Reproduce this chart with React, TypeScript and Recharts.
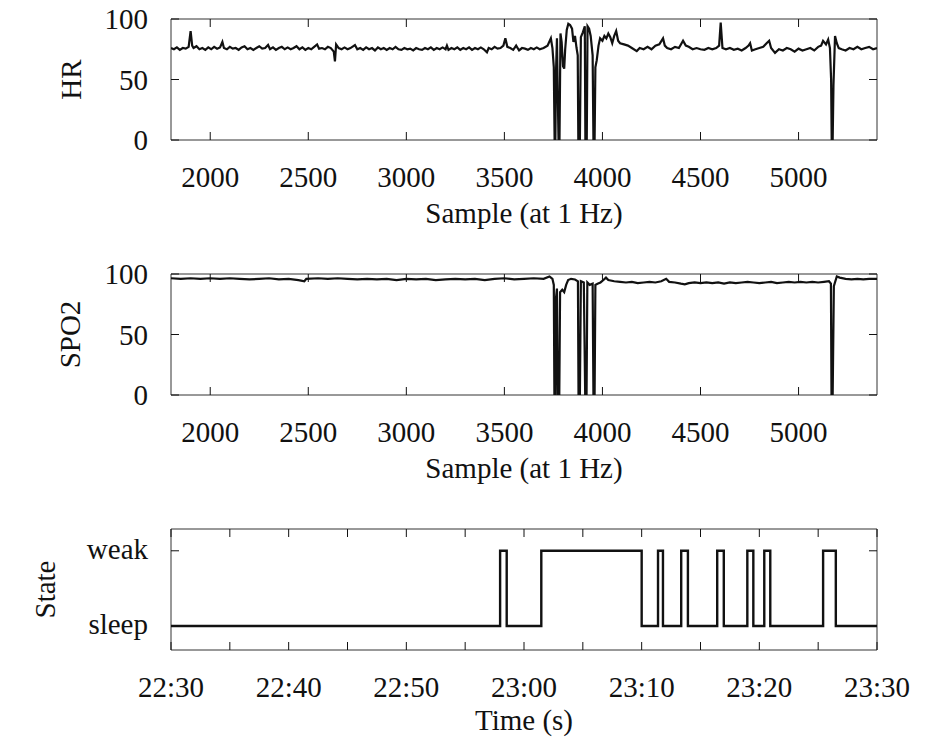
import React from 'react';
import { LineChart, Line, XAxis, YAxis, ReferenceArea } from 'recharts';

// --- layout constants (shared by the three stacked panels) ---
const FONT = '"Liberation Serif", "Times New Roman", serif';
const INK = '#111';
const FRAME = '#333';
const CHART_W = 946;
const PLOT_LEFT = 171;
const PLOT_W = 706;
const PLOT_H = 121;
const TICK_LEN = 8;
const FONT_SIZE = 29;

// --- axis ticks ---
const sampleTicks = [2000, 2500, 3000, 3500, 4000, 4500, 5000];
const levelTicks = [0, 50, 100];
const minuteTicks = [0, 5, 10, 15, 20, 25, 30, 35, 40, 45, 50, 55, 60];
const stateNames = ['sleep', 'weak'];

// --- heart rate, [sample, bpm] ---
const hrPoints: [number, number][] = [
  [1800, 76], [1815, 75], [1830, 76.5], [1845, 74.5], [1860, 76], [1875, 75.5], [1890, 77],
  [1900, 90], [1908, 78], [1915, 76], [1930, 77.5], [1945, 75], [1960, 76], [1975, 74.5],
  [1990, 76.5], [2005, 75], [2020, 77], [2035, 75.5], [2050, 76.5], [2062, 81], [2070, 76],
  [2085, 75], [2100, 77], [2115, 75.5], [2130, 76], [2145, 74.5], [2160, 76.5], [2175, 77.5],
  [2190, 75], [2205, 76], [2220, 74.5], [2235, 76], [2250, 77.5], [2265, 75.5], [2280, 76],
  [2295, 78.5], [2305, 75], [2320, 76.5], [2335, 74.5], [2350, 76], [2365, 77], [2380, 75],
  [2395, 76.5], [2410, 75], [2425, 76], [2440, 77.5], [2455, 75], [2470, 76.5], [2485, 74.5],
  [2500, 76], [2515, 75], [2530, 77], [2545, 79], [2555, 75.5], [2570, 76], [2585, 75],
  [2600, 77], [2615, 76], [2630, 73], [2636, 65], [2642, 79], [2655, 76], [2670, 75],
  [2685, 76.5], [2700, 75], [2715, 76], [2738, 78.5], [2750, 75], [2765, 76], [2780, 74.5],
  [2795, 76.5], [2810, 75], [2825, 76], [2840, 74], [2855, 76.5], [2870, 75], [2885, 76],
  [2900, 74.5], [2915, 76], [2930, 75], [2945, 77], [2960, 75], [2975, 74.5], [2990, 76],
  [3005, 75], [3020, 75.5], [3035, 74], [3050, 76], [3065, 75], [3080, 74.5], [3095, 76],
  [3110, 75], [3125, 76.5], [3140, 74.5], [3155, 76], [3170, 75], [3185, 76.5], [3200, 75],
  [3207, 78], [3215, 74.5], [3230, 76], [3245, 75], [3260, 76.5], [3275, 74.5], [3290, 76],
  [3305, 75], [3320, 76.5], [3335, 74.5], [3350, 76], [3365, 75], [3380, 76.5], [3395, 75],
  [3411, 72.5], [3420, 76], [3435, 75], [3450, 77], [3465, 75.5], [3480, 76], [3495, 78],
  [3505, 84], [3515, 77], [3530, 76], [3545, 74.5], [3560, 78], [3575, 74], [3590, 76],
  [3605, 75.5], [3620, 74.5], [3635, 76], [3650, 75], [3665, 76.5], [3680, 75], [3700, 76],
  [3720, 78], [3737, 84], [3745, 76], [3752, 60], [3756, 0], [3760, 0], [3763, 55],
  [3768, 84], [3772, 40], [3776, 0], [3781, 0], [3786, 88], [3792, 81], [3799, 61],
  [3805, 59], [3810, 75], [3818, 91], [3826, 96], [3835, 95], [3845, 92], [3852, 81],
  [3860, 86], [3868, 76], [3874, 70], [3877, 0], [3885, 0], [3890, 85], [3900, 89],
  [3910, 94], [3913, 0], [3920, 0], [3924, 94], [3932, 92], [3940, 86], [3950, 70],
  [3954, 0], [3960, 0], [3964, 60], [3971, 66], [3980, 78], [3988, 84], [4000, 82],
  [4010, 86], [4020, 84], [4030, 88], [4040, 85], [4050, 80], [4060, 86], [4070, 90],
  [4080, 82], [4090, 80], [4110, 79], [4130, 78], [4150, 76], [4175, 73.5], [4190, 76],
  [4210, 75], [4230, 77], [4250, 75], [4270, 78], [4290, 79], [4309, 84], [4318, 78],
  [4330, 76], [4350, 75], [4370, 77], [4390, 76], [4411, 82], [4425, 78], [4440, 77],
  [4460, 75], [4480, 76], [4500, 75], [4520, 74.5], [4540, 76], [4560, 75], [4580, 76],
  [4595, 78], [4603, 97], [4612, 76], [4630, 75], [4650, 76], [4670, 74.5], [4690, 75.5],
  [4710, 74], [4730, 76], [4745, 78], [4753, 80], [4762, 74], [4780, 75], [4800, 76],
  [4820, 77], [4837, 80], [4850, 82], [4860, 76], [4880, 72], [4900, 75], [4920, 74],
  [4940, 76], [4960, 75], [4980, 73], [5000, 75.5], [5020, 74], [5040, 75], [5060, 76],
  [5080, 74], [5100, 77], [5115, 78], [5125, 82], [5140, 79], [5151, 83], [5160, 76],
  [5166, 50], [5169, 0], [5174, 0], [5178, 45], [5186, 86], [5195, 80], [5205, 76],
  [5220, 75], [5240, 74], [5260, 76], [5280, 75], [5300, 77], [5320, 75], [5340, 76],
  [5360, 77], [5380, 75], [5400, 76],
];

// --- blood oxygen saturation, [sample, %] ---
const spo2Points: [number, number][] = [
  [1800, 96.5], [1850, 96], [1900, 96.5], [1950, 96], [2000, 96.5], [2050, 96], [2100, 96.5],
  [2150, 96], [2200, 95.5], [2250, 96], [2300, 96.5], [2350, 95.5], [2400, 96], [2450, 95],
  [2480, 94], [2490, 96], [2550, 96.5], [2600, 96], [2650, 96.5], [2700, 96], [2750, 95.5],
  [2800, 96], [2850, 95.5], [2900, 96], [2950, 95], [3000, 96], [3050, 95.5], [3100, 96],
  [3150, 95], [3200, 95.5], [3250, 96], [3300, 95.5], [3350, 96], [3400, 95], [3450, 96],
  [3500, 96.5], [3550, 95.5], [3600, 96], [3650, 96.5], [3700, 96], [3730, 98], [3745, 96],
  [3752, 91], [3755, 0], [3760, 0], [3763, 80], [3768, 88], [3772, 0], [3780, 0],
  [3784, 85], [3795, 87], [3805, 85], [3815, 91], [3825, 95], [3840, 96], [3860, 95.5],
  [3875, 94], [3878, 0], [3885, 0], [3890, 94], [3905, 93], [3912, 0], [3919, 0],
  [3923, 93], [3935, 91], [3950, 92], [3954, 0], [3960, 0], [3964, 91], [3975, 92],
  [3990, 93], [4005, 95], [4018, 97], [4030, 95], [4060, 94], [4090, 93.5], [4120, 93],
  [4150, 93.5], [4180, 92.5], [4210, 93], [4240, 93.5], [4270, 93], [4300, 94], [4325, 96],
  [4340, 93.5], [4370, 93], [4400, 92], [4420, 91.5], [4440, 92.5], [4470, 93], [4500, 92.5],
  [4530, 93], [4560, 92.5], [4590, 93], [4620, 92], [4650, 93], [4680, 92.5], [4710, 93],
  [4740, 93.5], [4770, 93], [4800, 92.5], [4830, 93], [4860, 93.5], [4890, 92.5], [4920, 93],
  [4950, 93.5], [4980, 93], [5010, 93.5], [5040, 93], [5070, 93.5], [5100, 93], [5130, 93.5],
  [5155, 94], [5165, 92], [5168, 0], [5174, 0], [5180, 90], [5195, 98], [5210, 97],
  [5240, 96], [5270, 95.5], [5300, 96], [5330, 95.5], [5360, 96], [5400, 96],
];

// --- detected state, minutes after 22:30 and level (0 = sleep, 1 = weak) ---
const stateMinutes = [
  0, 27.97, 28.53, 31.47, 40.0, 41.39, 41.81, 43.36, 43.93, 46.42, 46.98,
  48.98, 49.49, 50.42, 50.93, 55.42, 56.5, 60,
];
const stateLevels = [0, 1, 0, 1, 0, 1, 0, 1, 0, 1, 0, 1, 0, 1, 0, 1, 0, 0];

const hrData = hrPoints.map(([sample, value]) => ({ sample, value }));
const spo2Data = spo2Points.map(([sample, value]) => ({ sample, value }));
const stateData = stateMinutes.map((minute, i) => ({ minute, level: stateLevels[i] }));

const clock = (m: number) => {
  const total = 22 * 60 + 30 + m;
  const h = Math.floor(total / 60);
  const mm = total % 60;
  return `${h}:${String(mm).padStart(2, '0')}`;
};

const textStyle = { fontFamily: FONT, fontSize: FONT_SIZE, fill: INK };

// bottom-axis tick: inward tick at bottom and mirrored at top, plus label
const XTick = (props: any) => {
  const { x, y, payload, fmt } = props;
  const label = fmt(payload.value);
  return (
    <g>
      <line x1={x} y1={y} x2={x} y2={y - TICK_LEN} stroke={INK} strokeWidth={1} />
      <line x1={x} y1={y - PLOT_H} x2={x} y2={y - PLOT_H + TICK_LEN} stroke={INK} strokeWidth={1} />
      {label !== null && (
        <text x={x} y={y + 47} textAnchor="middle" {...textStyle}>{label}</text>
      )}
    </g>
  );
};

// left-axis tick: inward tick on left and mirrored on right, plus label
const YTick = (props: any) => {
  const { x, y, payload, fmt, dy } = props;
  return (
    <g>
      <line x1={x} y1={y} x2={x + TICK_LEN} y2={y} stroke={INK} strokeWidth={1} />
      <line x1={x + PLOT_W} y1={y} x2={x + PLOT_W - TICK_LEN} y2={y} stroke={INK} strokeWidth={1} />
      <text x={x - 23} y={y + dy} textAnchor="end" {...textStyle}>{fmt(payload.value)}</text>
    </g>
  );
};

const XTitle = (text: string, dy: number) => (props: any) => {
  const vb = props.viewBox || { x: PLOT_LEFT, y: 0, width: PLOT_W };
  return (
    <text x={vb.x + vb.width / 2} y={vb.y + dy} textAnchor="middle" {...textStyle}>{text}</text>
  );
};

const YTitle = (text: string, cx: number) => (props: any) => {
  const vb = props.viewBox || { y: 19, height: PLOT_H };
  const cy = vb.y + vb.height / 2;
  return (
    <text x={cx} y={cy} transform={`rotate(-90, ${cx}, ${cy})`} textAnchor="middle"
      dominantBaseline="central" {...textStyle}>{text}</text>
  );
};

const SignalPanel = ({ data, title, titleX }: { data: any[]; title: string; titleX: number }) => (
  <LineChart width={CHART_W} height={250} data={data}
    margin={{ top: 19, right: CHART_W - PLOT_LEFT - PLOT_W, bottom: 20, left: 0 }}>
    <XAxis type="number" dataKey="sample" domain={[1800, 5400]} ticks={sampleTicks} interval={0}
      height={90} tickSize={0} tickMargin={0} axisLine={false} tickLine={false} allowDataOverflow
      tick={(p: any) => <XTick {...p} fmt={(v: number) => String(v)} />}
      label={{ value: 'Sample (at 1 Hz)', content: XTitle('Sample (at 1 Hz)', 83) }} />
    <YAxis type="number" domain={[0, 100]} ticks={levelTicks} interval={0} width={PLOT_LEFT}
      tickSize={0} tickMargin={0} axisLine={false} tickLine={false} allowDataOverflow
      tick={(p: any) => <YTick {...p} dy={10} fmt={(v: number) => String(v)} />}
      label={{ value: title, content: YTitle(title, titleX) }} />
    <ReferenceArea x1={1800} x2={5400} y1={0} y2={100} fill="none" stroke={FRAME} strokeWidth={1} />
    <Line type="linear" dataKey="value" stroke={INK} strokeWidth={2.2} dot={false}
      isAnimationActive={false} />
  </LineChart>
);

const StatePanel = () => (
  <LineChart width={CHART_W} height={240} data={stateData}
    margin={{ top: 19, right: CHART_W - PLOT_LEFT - PLOT_W, bottom: 10, left: 0 }}>
    <XAxis type="number" dataKey="minute" domain={[0, 60]} ticks={minuteTicks} interval={0}
      height={90} tickSize={0} tickMargin={0} axisLine={false} tickLine={false}
      tick={(p: any) => <XTick {...p} fmt={(v: number) => (v % 10 === 0 ? clock(v) : null)} />}
      label={{ value: 'Time (s)', content: XTitle('Time (s)', 80) }} />
    <YAxis type="number" domain={[-0.32, 1.29]} ticks={[0, 1]} interval={0} width={PLOT_LEFT}
      tickSize={0} tickMargin={0} axisLine={false} tickLine={false} allowDataOverflow
      tick={(p: any) => <YTick {...p} dy={8} fmt={(v: number) => stateNames[v]} />}
      label={{ value: 'State', content: YTitle('State', 45) }} />
    <ReferenceArea x1={0} x2={60} y1={-0.32} y2={1.29} fill="none" stroke={FRAME} strokeWidth={1} />
    <Line type="stepAfter" dataKey="level" stroke={INK} strokeWidth={2.4} dot={false}
      isAnimationActive={false} />
  </LineChart>
);

export default function App() {
  return (
    <div style={{ position: 'absolute', left: 0, top: 0, width: CHART_W, height: 750, background: '#fff' }}>
      <div style={{ position: 'absolute', left: 0, top: 0 }}>
        <SignalPanel data={hrData} title="HR" titleX={71} />
      </div>
      <div style={{ position: 'absolute', left: 0, top: 255 }}>
        <SignalPanel data={spo2Data} title="SPO2" titleX={70} />
      </div>
      <div style={{ position: 'absolute', left: 0, top: 510 }}>
        <StatePanel />
      </div>
    </div>
  );
}
